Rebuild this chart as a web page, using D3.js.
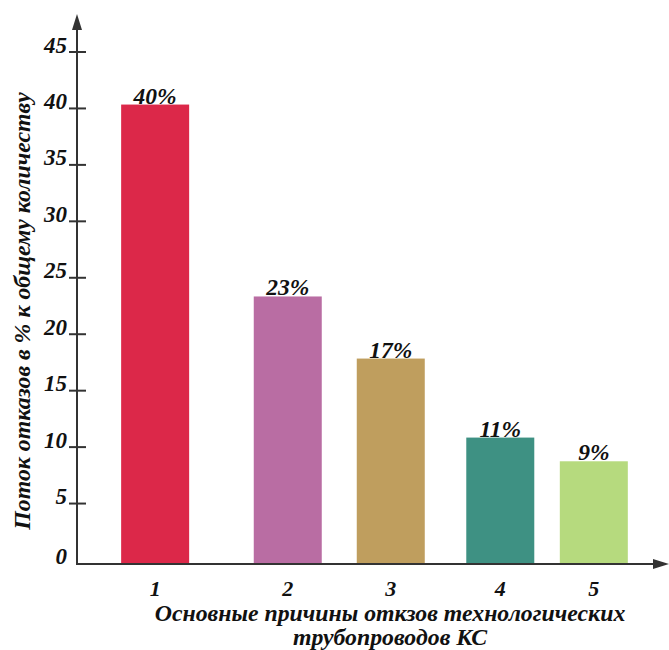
<!DOCTYPE html>
<html><head><meta charset="utf-8">
<script src="https://cdn.jsdelivr.net/npm/d3@7"></script>
<style>body{margin:0;background:#fff;}svg{display:block;}</style>
</head><body>
<svg id="c" width="669" height="650"></svg>
<script>
const categories = ["1","2","3","4","5"];
const values = [40.3, 23.3, 17.8, 10.8, 8.7];
const valueLabels = ["40%","23%","17%","11%","9%"];
const slots = [1.32, 3.56, 5.30, 7.15, 8.73];
const colors = ["#dc2849","#b96da3","#bf9e5e","#3e9183","#b6da7e"];
const yTicks = [0,5,10,15,20,25,30,35,40,45];
const yTitle = "Поток отказов в % к общему количеству";
const xTitle = ["Основные причины откзов технологических","трубопроводов КС"];

const svg = d3.select("#c");
const font = "Liberation Serif";
const axisX = 77, axisY = 564;
const x = d3.scaleLinear().domain([0,10]).range([axisX, 669]);
const y = d3.scaleLinear().domain([0,45]).range([559.5, 51.5]);
const barW = 68;

function styleText(sel, size){
  return sel.attr("font-family",font).attr("font-weight","bold").attr("font-style","italic")
    .attr("font-size",size).attr("fill","#111");
}

// bars
svg.selectAll("rect.bar").data(values).join("rect")
  .attr("x",(d,i)=>x(slots[i])-barW/2)
  .attr("y",d=>y(d))
  .attr("width",barW)
  .attr("height",d=>axisY-y(d))
  .attr("fill",(d,i)=>colors[i]);

// value labels
styleText(svg.selectAll("text.vl").data(values).join("text")
  .attr("x",(d,i)=>x(slots[i]))
  .attr("y",d=>y(d)-1)
  .attr("text-anchor","middle"), 23.5)
  .text((d,i)=>valueLabels[i]);

// y axis
const yAxis = d3.axisLeft(y).tickValues(yTicks.filter(t=>t>0)).tickSize(0).tickFormat("");
const gy = svg.append("g").attr("transform",`translate(${axisX},0)`).call(yAxis);
gy.select(".domain").remove();
svg.append("line").attr("x1",axisX).attr("x2",axisX).attr("y1",axisY).attr("y2",24)
  .attr("stroke","#333").attr("stroke-width",2);
svg.append("path").attr("d",`M${axisX},14 L${axisX-5},30 L${axisX+5},30 Z`).attr("fill","#333");
gy.selectAll(".tick").each(function(d){
  d3.select(this).append("line").attr("x1",-8).attr("x2",9).attr("y1",0).attr("y2",0)
    .attr("stroke","#333").attr("stroke-width",2);
});
styleText(svg.selectAll("text.yt").data(yTicks).join("text")
  .attr("x",67)
  .attr("y",d=> d===0 ? y(0)+4 : y(d)+1)
  .attr("text-anchor","end"), 23)
  .text(d=>d);

// x axis
svg.append("line").attr("x1",axisX-1).attr("x2",658).attr("y1",axisY).attr("y2",axisY)
  .attr("stroke","#333").attr("stroke-width",2);
svg.append("path").attr("d",`M669,${axisY} L653,${axisY-5} L653,${axisY+5} Z`).attr("fill","#333");
styleText(svg.selectAll("text.xt").data(categories).join("text")
  .attr("x",(d,i)=>x(slots[i]))
  .attr("y",596)
  .attr("text-anchor","middle"), 22)
  .text(d=>d);

// titles
styleText(svg.append("text")
  .attr("transform","translate(30,311) rotate(-90)")
  .attr("text-anchor","middle"), 23.8)
  .text(yTitle);
styleText(svg.selectAll("text.xtitle").data(xTitle).join("text")
  .attr("x",390).attr("y",(d,i)=>621+i*24)
  .attr("text-anchor","middle"), 23.8)
  .text(d=>d);
</script>
</body></html>
